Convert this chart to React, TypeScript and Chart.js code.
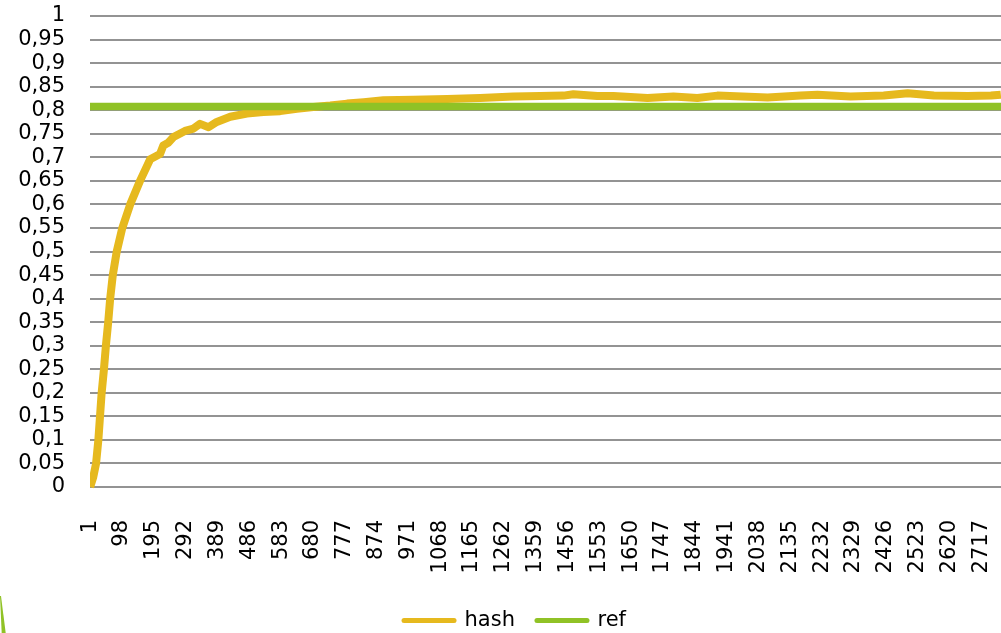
import React, { useEffect, useRef } from "react";
import { Chart, registerables } from "chart.js";

Chart.register(...registerables);

// x positions (sample index) and values of the "hash" series
const HASH_X = [1, 10, 19, 26, 31, 36, 43, 49, 56, 62, 70, 82, 99, 123, 153, 184, 214, 224, 239, 255, 290, 316, 336, 362, 387, 428, 479, 529, 580, 631, 681, 733, 784, 835, 895, 986, 1090, 1190, 1291, 1373, 1444, 1474, 1547, 1596, 1700, 1779, 1852, 1913, 2066, 2167, 2218, 2319, 2420, 2493, 2573, 2676, 2747, 2777];
const HASH_Y = [0, 0.02, 0.05, 0.1, 0.15, 0.2, 0.25, 0.3, 0.35, 0.4, 0.45, 0.5, 0.55, 0.6, 0.65, 0.696, 0.707, 0.725, 0.731, 0.743, 0.756, 0.761, 0.771, 0.764, 0.775, 0.786, 0.793, 0.796, 0.798, 0.803, 0.807, 0.81, 0.814, 0.817, 0.821, 0.822, 0.824, 0.826, 0.829, 0.83, 0.831, 0.834, 0.83, 0.83, 0.826, 0.829, 0.826, 0.831, 0.827, 0.831, 0.833, 0.829, 0.831, 0.836, 0.831, 0.83, 0.831, 0.833];

// constant reference series
const REF_VALUE = 0.808;

// category range and tick labels of the x axis
const X_MIN = 0.5;
const X_MAX = 2777.5;
const X_TICKS = [1, 98, 195, 292, 389, 486, 583, 680, 777, 874, 971, 1068, 1165, 1262, 1359, 1456, 1553, 1650, 1747, 1844, 1941, 2038, 2135, 2232, 2329, 2426, 2523, 2620, 2717];

const SERIES_NAMES = ["hash", "ref"];
const FONT = "'DejaVu Sans', 'Liberation Sans', sans-serif";

const legendShift = {
  id: "legendShift",
  afterLayout(chart: any) {
    if (chart.legend) chart.legend.left = 29;
  },
};

export default function App() {
  const canvasRef = useRef<HTMLCanvasElement | null>(null);

  useEffect(() => {
    const canvas = canvasRef.current;
    if (!canvas) return;
    const hashData = HASH_X.map((x, i) => ({ x, y: HASH_Y[i] }));
    const refData = [
      { x: X_MIN, y: REF_VALUE },
      { x: X_MAX, y: REF_VALUE },
    ];
    const chart = new Chart(canvas, {
      type: "line",
      plugins: [legendShift],
      data: {
        datasets: [
          {
            label: SERIES_NAMES[0],
            data: hashData,
            borderColor: "#E6B91E",
            backgroundColor: "#E6B91E",
            borderWidth: 8,
            pointRadius: 0,
            tension: 0,
            borderJoinStyle: "round",
            borderCapStyle: "butt",
            order: 2,
            clip: { left: 0, top: 8, right: 0, bottom: 8 },
          } as any,
          {
            label: SERIES_NAMES[1],
            data: refData,
            borderColor: "#90C226",
            backgroundColor: "#90C226",
            borderWidth: 7.5,
            pointRadius: 0,
            tension: 0,
            order: 1,
            clip: { left: 0, top: 8, right: 0, bottom: 8 },
          } as any,
        ],
      },
      options: {
        responsive: false,
        animation: false,
        layout: { padding: { left: 0, right: 0, top: 16, bottom: -8 } },
        plugins: {
          tooltip: { enabled: false },
          legend: {
            position: "bottom",
            labels: {
              usePointStyle: true,
              pointStyle: "line",
              pointStyleWidth: 50,
              padding: 22,
              color: "#000",
              font: { family: FONT, size: 21 },
              sort: (a: any, b: any) => a.datasetIndex - b.datasetIndex,
              generateLabels: (ch: any) =>
                (Chart.defaults.plugins.legend.labels as any)
                  .generateLabels(ch)
                  .map((l: any) => ({ ...l, lineWidth: 5, lineCap: "round", pointStyle: "line" })),
            },
          } as any,
        },
        scales: {
          x: {
            type: "linear",
            min: X_MIN,
            max: X_MAX,
            grid: { display: false },
            border: { display: false },
            afterBuildTicks: (scale: any) => {
              scale.ticks = X_TICKS.map((v) => ({ value: v }));
            },
            afterFit: (scale: any) => {
              scale.height = 101;
              scale.paddingLeft = 0;
              scale.paddingRight = 0;
            },
            ticks: {
              autoSkip: false,
              maxRotation: 90,
              minRotation: 90,
              padding: 25,
              color: "#000",
              font: { family: FONT, size: 21 },
              callback: (v: any) => String(v),
            },
          },
          y: {
            type: "linear",
            min: 0,
            max: 1,
            grid: { color: "#939393", lineWidth: 2, drawTicks: false },
            border: { display: false },
            afterFit: (scale: any) => {
              scale.width = 90;
              scale.paddingTop = 0;
              scale.paddingBottom = 0;
            },
            ticks: {
              stepSize: 0.05,
              autoSkip: false,
              padding: 25,
              color: "#000",
              font: { family: FONT, size: 21 },
              callback: (v: any) => {
                const s = Number(v).toFixed(2).replace(/0+$/, "").replace(/\.$/, "");
                return s.replace(".", ",");
              },
            },
          },
        },
      },
    });
    return () => chart.destroy();
  }, []);

  return (
    <div style={{ position: "fixed", left: 0, top: 0, width: 1001, height: 633, background: "#fff" }}>
      <canvas ref={canvasRef} width={1001} height={633} style={{ display: "block" }} />
      <svg width={10} height={40} style={{ position: "absolute", left: 0, top: 593 }}>
        <polygon points="0,3 1,3 5.7,40 1.7,40" fill="#90C226" />
      </svg>
    </div>
  );
}
